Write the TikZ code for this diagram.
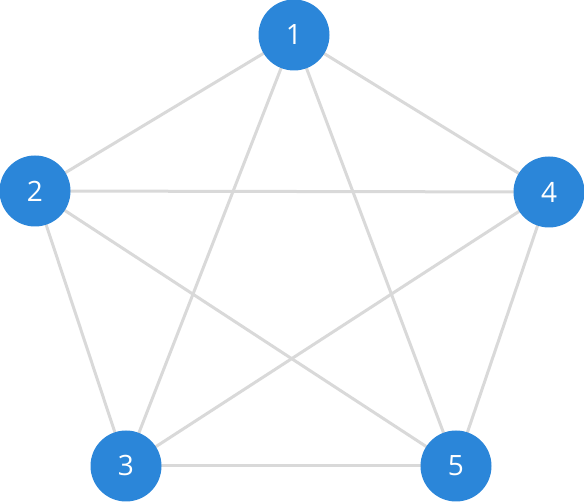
\documentclass[tikz,border=0pt]{standalone}
\usepackage{fontspec}
\setmainfont{Open Sans}
\usetikzlibrary{backgrounds}
\definecolor{nodeblue}{HTML}{2B86D9}
\definecolor{edgegray}{HTML}{D9D9D9}
\begin{document}
\begin{tikzpicture}[x=1pt,y=1pt,
  vertex/.style={circle,fill=nodeblue,minimum size=71pt,inner sep=0pt,text=white,font=\fontsize{28}{30}\selectfont},
  edge/.style={draw=edgegray,line width=3pt}]
\useasboundingbox (0,0) rectangle (584,502);
\node[vertex] (n1) at (294,467) {1};
\node[vertex] (n2) at (35,311) {2};
\node[vertex] (n4) at (549,310) {4};
\node[vertex] (n3) at (126,36) {3};
\node[vertex] (n5) at (456,36) {5};
\begin{scope}[on background layer]
\foreach \a/\b in {n1/n2,n1/n3,n1/n4,n1/n5,n2/n3,n2/n4,n2/n5,n3/n4,n3/n5,n4/n5}
  \draw[edge] (\a.center) -- (\b.center);
\end{scope}
\end{tikzpicture}
\end{document}
